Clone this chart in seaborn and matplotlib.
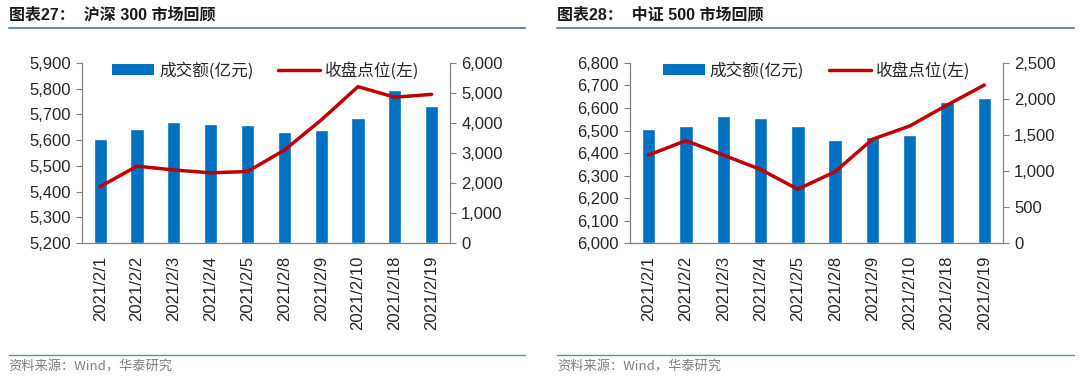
import matplotlib
matplotlib.use('Agg')
from matplotlib import pyplot as plt
import matplotlib.ticker as ticker
from matplotlib.lines import Line2D
from matplotlib.patches import Patch
import seaborn as sns
import pandas as pd

sns.set_theme(style='white')
plt.rcParams['font.family'] = ['Liberation Sans', 'Noto Sans CJK SC', 'DejaVu Sans']
plt.rcParams['axes.unicode_minus'] = False

dates = ['2021/2/1', '2021/2/2', '2021/2/3', '2021/2/4', '2021/2/5',
         '2021/2/8', '2021/2/9', '2021/2/10', '2021/2/18', '2021/2/19']

# 沪深300
hs300_turnover = [3470, 3800, 4040, 3980, 3940, 3690, 3780, 4180, 5090, 4570]
hs300_close = [5419, 5499, 5484, 5473, 5478, 5561, 5678, 5808, 5767, 5778]

# 中证500
zz500_turnover = [1580, 1620, 1770, 1740, 1625, 1425, 1470, 1505, 1955, 2015]
zz500_close = [6391, 6455, 6391, 6327, 6239, 6317, 6461, 6520, 6613, 6702]

panels = [
    dict(title='图表27：  沪深 300 市场回顾', turnover=hs300_turnover, close=hs300_close,
         left_lim=(5200, 5900), left_step=100, right_lim=(0, 6000), right_step=1000,
         pos=[0.0757, 0.3554, 0.341, 0.4775], tx=0.008),
    dict(title='图表28：  中证 500 市场回顾', turnover=zz500_turnover, close=zz500_close,
         left_lim=(6000, 6800), left_step=100, right_lim=(0, 2500), right_step=500,
         pos=[0.5833, 0.3554, 0.3454, 0.4775], tx=0.516),
]

BAR_COLOR = '#0070C0'
LINE_COLOR = '#C00000'
SPINE = '#808080'
RULE = '#6E88B5'
FS = 12

fig = plt.figure(figsize=(10.8, 3.77), dpi=100)

for p in panels:
    df = pd.DataFrame({'date': dates, 'turnover': p['turnover'], 'close': p['close']})
    ax = fig.add_axes(p['pos'])
    sns.barplot(data=df, x='date', y='turnover', ax=ax, color=BAR_COLOR,
                width=0.36, saturation=1)

    ax2 = ax.twinx()
    sns.pointplot(data=df, x='date', y='close', ax=ax2, color=LINE_COLOR,
                  markersize=0, linewidth=2.5)

    # bars on the right axis, closing level on the left axis
    ax.yaxis.tick_right()
    ax.yaxis.set_label_position('right')
    ax.set_ylim(*p['right_lim'])
    ax.yaxis.set_major_locator(ticker.MultipleLocator(p['right_step']))
    ax.yaxis.set_major_formatter(ticker.FuncFormatter(lambda v, pos: f'{int(v):,}'))

    ax2.yaxis.tick_left()
    ax2.yaxis.set_label_position('left')
    ax2.set_ylim(*p['left_lim'])
    ax2.yaxis.set_major_locator(ticker.MultipleLocator(p['left_step']))
    ax2.yaxis.set_major_formatter(ticker.FuncFormatter(lambda v, pos: f'{int(v):,}'))

    for a in (ax, ax2):
        a.set_xlabel('')
        a.set_ylabel('')
        a.set_xlim(-0.5, len(dates) - 0.5)
        a.spines['top'].set_visible(False)
        for s in ('left', 'right', 'bottom'):
            a.spines[s].set_color(SPINE)
            a.spines[s].set_linewidth(0.8)
        a.tick_params(axis='y', labelsize=FS, length=4, width=0.8, pad=4,
                      direction='out', colors=SPINE, labelcolor='#262626')

    ax.set_xticks(range(len(dates)))
    ax.set_xticklabels(dates, rotation=90, fontsize=FS, color='#262626')
    ax.xaxis.set_minor_locator(ticker.FixedLocator([i - 0.5 for i in range(len(dates) + 1)]))
    ax.tick_params(axis='x', which='major', length=0, pad=9)
    ax.tick_params(axis='x', which='minor', length=4, width=0.8, color=SPINE, direction='out')
    ax2.tick_params(axis='x', which='both', length=0)

    handles = [Patch(facecolor=BAR_COLOR, edgecolor='none'),
               Line2D([], [], color=LINE_COLOR, linewidth=2.5)]
    ax2.legend(handles, ['成交额(亿元)', '收盘点位(左)'], loc='upper center',
               bbox_to_anchor=(0.5, 1.09), ncol=2, frameon=False,
               handlelength=2.5, handleheight=0.6, handletextpad=0.3,
               columnspacing=1.5,
               prop={'family': ['Noto Sans CJK SC'], 'size': FS})

    tx = p['tx']
    fig.text(tx, 0.962, p['title'], fontsize=11.5, fontweight='bold',
             ha='left', va='center', color='#1a1a1a',
             family=['Liberation Sans', 'Noto Sans CJK SC'])
    fig.add_artist(Line2D([tx, tx + 0.478], [0.925, 0.925], color=RULE, linewidth=1.5))
    fig.add_artist(Line2D([tx, tx + 0.478], [0.058, 0.058], color=RULE, linewidth=1.0))
    fig.text(tx, 0.027, '资料来源：Wind，华泰研究', fontsize=9.5, color='#7f7f7f',
             ha='left', va='center', family=['Noto Sans CJK SC', 'Liberation Sans'])

fig.savefig('out.png', dpi=100)
